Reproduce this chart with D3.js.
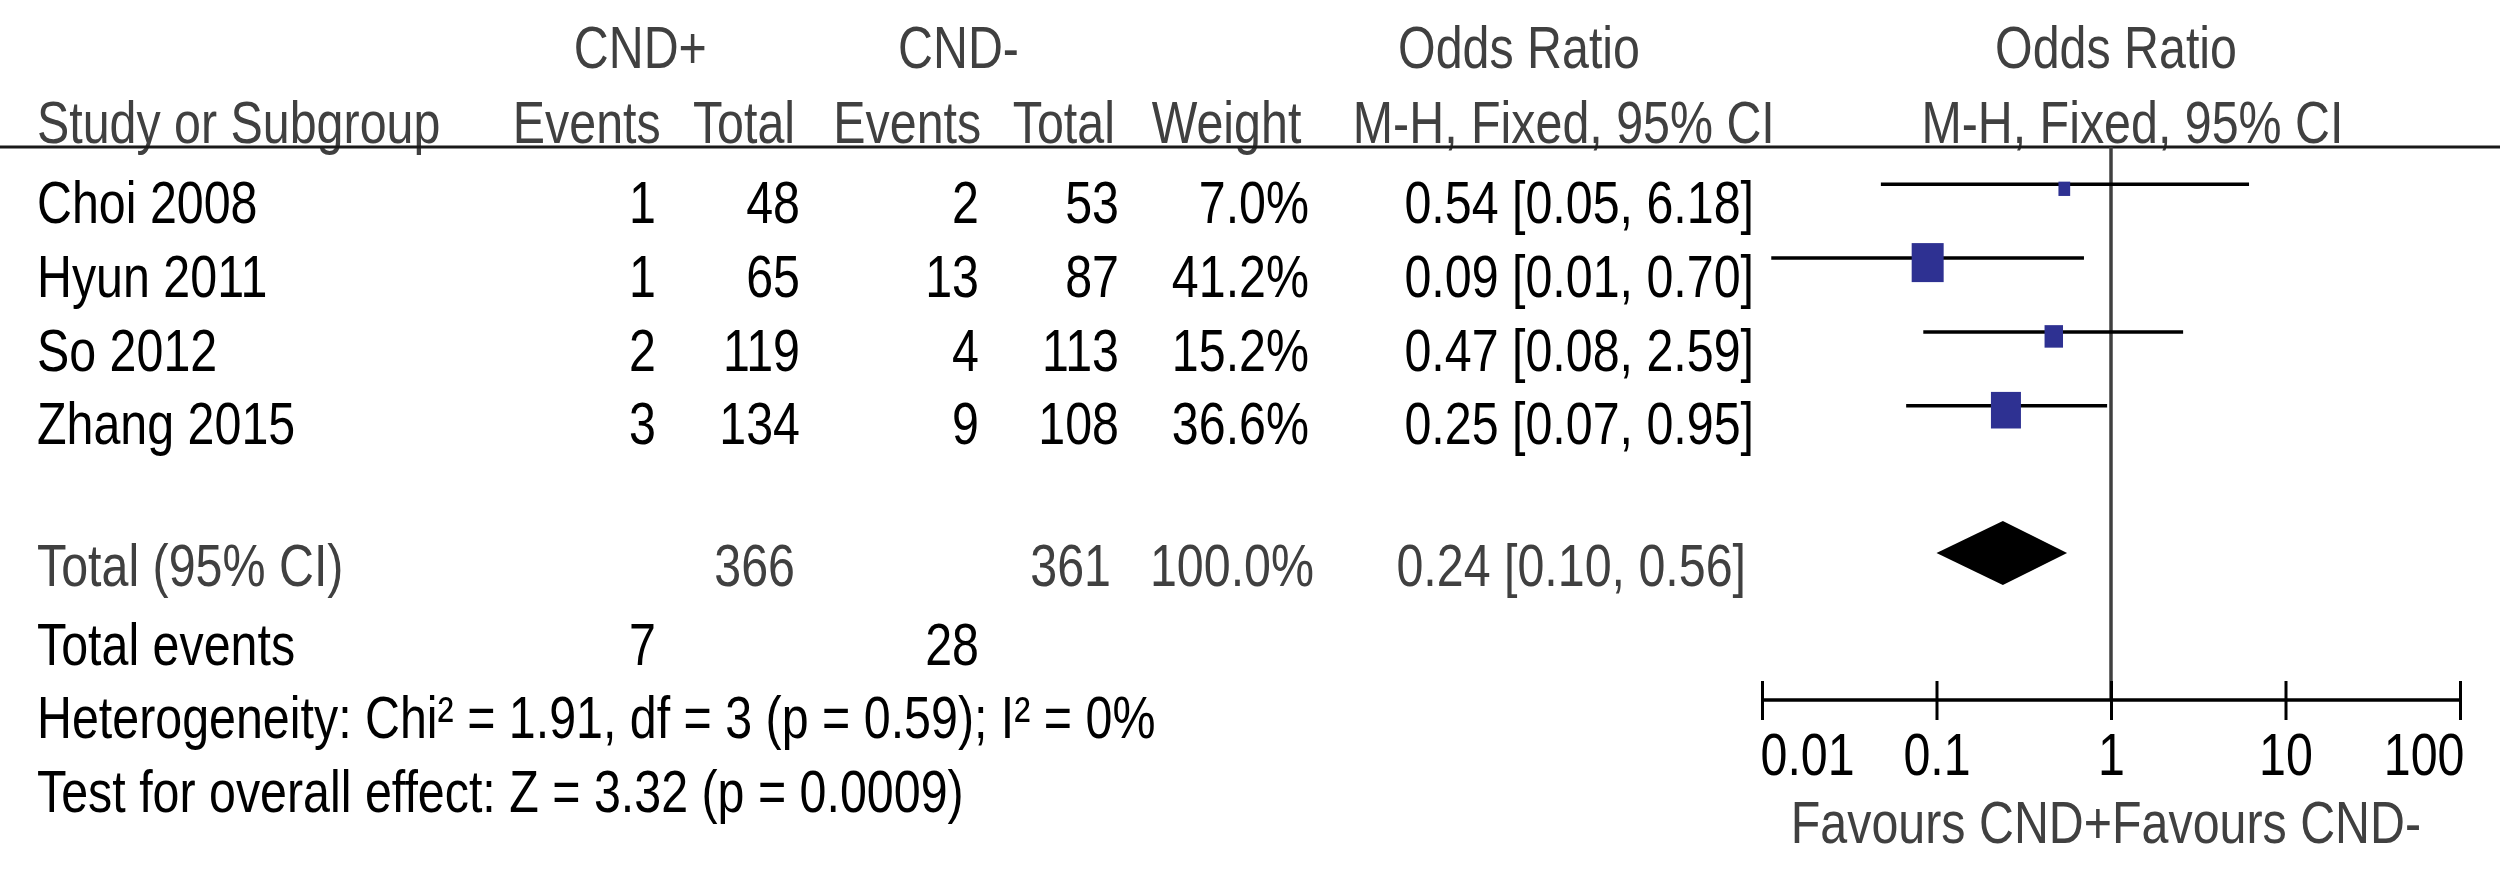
<!DOCTYPE html>
<html>
<head>
<meta charset="utf-8">
<script src="https://cdn.jsdelivr.net/npm/d3@7"></script>
<style>
  html, body { margin: 0; padding: 0; background: #fff; }
  svg { display: block; }
  text { font-family: "Liberation Sans", Arial, sans-serif; font-size: 59px; }
</style>
</head>
<body>
<svg id="chart" width="2500" height="885"></svg>
<script>
// ---------- data ----------
const studies    = ["Choi 2008", "Hyun 2011", "So 2012", "Zhang 2015"];
const eventsPos  = [1, 1, 2, 3];
const totalPos   = [48, 65, 119, 134];
const eventsNeg  = [2, 13, 4, 9];
const totalNeg   = [53, 87, 113, 108];
const weights    = [7.0, 41.2, 15.2, 36.6];
const oddsRatio  = [0.54, 0.089, 0.47, 0.25];
const ciLower    = [0.048, 0.0113, 0.084, 0.067];
const ciUpper    = [6.18, 0.70, 2.59, 0.95];
const ciLabels   = ["0.54 [0.05, 6.18]", "0.09 [0.01, 0.70]", "0.47 [0.08, 2.59]", "0.25 [0.07, 0.95]"];
const weightLabels = ["7.0%", "41.2%", "15.2%", "36.6%"];

const pooledOR = 0.24, pooledLower = 0.10, pooledUpper = 0.56;
const pooledLabel = "0.24 [0.10, 0.56]";
const totalPosN = 366, totalNegN = 361, totalWeightLabel = "100.0%";
const totalEventsPos = 7, totalEventsNeg = 28;
const heterogeneityText = "Heterogeneity: Chi\u00B2 = 1.91, df = 3 (p = 0.59); I\u00B2 = 0%";
const overallText = "Test for overall effect: Z = 3.32 (p = 0.0009)";

const tickValues = [0.01, 0.1, 1, 10, 100];
const tickLabels = ["0.01", "0.1", "1", "10", "100"];
const favoursLeft = "Favours CND+", favoursRight = "Favours CND-";

// ---------- styling / layout ----------
const SX = 0.82;             // horizontal condensing of the original image
const GRAY = "#404040";
const BLUE = "#2e3192";

const svg = d3.select("#chart");
svg.append("rect").attr("width", 2500).attr("height", 885).attr("fill", "#fff");

function txt(x, y, s, anchor, fill) {
  return svg.append("text")
    .attr("transform", `translate(${x},${y}) scale(${SX},1)`)
    .attr("text-anchor", anchor || "start")
    .attr("fill", fill || "#000")
    .text(s);
}

// scales
const x = d3.scaleLog().domain([0.01, 100]).range([1762, 2460]);
const rowY = d3.scaleLinear().domain([0, 3]).range([184.3, 405.7]);   // CI line y
const textOffset = 38.6;
const sqH = d3.scaleLinear().domain([Math.sqrt(7.0), Math.sqrt(41.2)]).range([14.3, 39]);

// ---------- headers ----------
txt(640.3, 68, "CND+", "middle", GRAY);
txt(958.5, 68, "CND-", "middle", GRAY);
txt(1519, 68, "Odds Ratio", "middle", GRAY);
txt(2116, 68, "Odds Ratio", "middle", GRAY);

const hy = 143;
txt(37, hy, "Study or Subgroup", "start", GRAY);
txt(586.8, hy, "Events", "middle", GRAY);
txt(744, hy, "Total", "middle", GRAY);
txt(907.3, hy, "Events", "middle", GRAY);
txt(1063.8, hy, "Total", "middle", GRAY);
txt(1226.5, hy, "Weight", "middle", GRAY);
txt(1563.8, hy, "M-H, Fixed, 95% CI", "middle", GRAY);
txt(2132.4, hy, "M-H, Fixed, 95% CI", "middle", GRAY);

svg.append("line").attr("x1", 0).attr("x2", 2500).attr("y1", 147).attr("y2", 147)
  .attr("stroke", "#1a1a1a").attr("stroke-width", 3);

// ---------- study rows ----------
studies.forEach((s, i) => {
  const ty = rowY(i) + textOffset;
  txt(37, ty, s, "start");
  txt(656, ty, eventsPos[i], "end");
  txt(800, ty, totalPos[i], "end");
  txt(979, ty, eventsNeg[i], "end");
  txt(1119, ty, totalNeg[i], "end");
  txt(1309, ty, weightLabels[i], "end");
  txt(1754, ty, ciLabels[i], "end");
});

// vertical line of no effect
svg.append("line").attr("x1", x(1)).attr("x2", x(1)).attr("y1", 147).attr("y2", 700)
  .attr("stroke", GRAY).attr("stroke-width", 3.5);

// CI lines
svg.append("g").selectAll("line").data(studies).join("line")
  .attr("x1", (d, i) => x(ciLower[i]))
  .attr("x2", (d, i) => x(ciUpper[i]))
  .attr("y1", (d, i) => rowY(i))
  .attr("y2", (d, i) => rowY(i))
  .attr("stroke", "#000").attr("stroke-width", 3.5);

// squares
svg.append("g").selectAll("rect").data(studies).join("rect")
  .attr("width", (d, i) => sqH(Math.sqrt(weights[i])) * SX)
  .attr("height", (d, i) => sqH(Math.sqrt(weights[i])))
  .attr("x", (d, i) => x(oddsRatio[i]) - sqH(Math.sqrt(weights[i])) * SX / 2)
  .attr("y", (d, i) => rowY(i) + 4.5 - sqH(Math.sqrt(weights[i])) / 2)
  .attr("fill", BLUE);

// ---------- total row ----------
const totY = 586;
txt(37, totY, "Total (95% CI)", "start", GRAY);
txt(795, totY, totalPosN, "end", GRAY);
txt(1111, totY, totalNegN, "end", GRAY);
txt(1314, totY, totalWeightLabel, "end", GRAY);
txt(1746, totY, pooledLabel, "end", GRAY);

const dY = 553, dH = 32;
svg.append("path")
  .attr("d", `M${x(pooledLower)},${dY} L${x(pooledOR)},${dY - dH} L${x(pooledUpper)},${dY} L${x(pooledOR)},${dY + dH} Z`)
  .attr("fill", "#000");

txt(37, 665, "Total events", "start");
txt(656, 665, totalEventsPos, "end");
txt(979, 665, totalEventsNeg, "end");
txt(37, 738, heterogeneityText, "start");
txt(37, 812, overallText, "start");

// ---------- axis ----------
const axisY = 700, tickTop = 681, tickLen = 39;
const axis = d3.axisBottom(x).tickValues(tickValues)
  .tickFormat((d, i) => tickLabels[i]).tickSizeInner(tickLen).tickSizeOuter(0);
const ag = svg.append("g").attr("transform", `translate(0,${tickTop})`).call(axis);
ag.select(".domain").remove();
ag.selectAll(".tick line").attr("stroke", "#000").attr("stroke-width", 3);
ag.selectAll(".tick text")
  .attr("y", null).attr("dy", null)
  .attr("transform", `translate(0,${775 - tickTop}) scale(${SX},1)`)
  .attr("fill", "#000")
  .attr("font-family", "Liberation Sans, Arial, sans-serif")
  .attr("font-size", 59)
  .attr("text-anchor", (d, i) => i === 0 ? "start" : (i === tickValues.length - 1 ? "end" : "middle"))
  .attr("x", (d, i) => i === 0 ? -2 / SX : (i === tickValues.length - 1 ? 4 / SX : 0));
svg.append("line").attr("x1", x(0.01)).attr("x2", x(100)).attr("y1", axisY).attr("y2", axisY)
  .attr("stroke", "#000").attr("stroke-width", 3.5);

txt(x(1) + 1, 843, favoursLeft, "end", GRAY);
txt(x(1) + 1, 843, favoursRight, "start", GRAY);
</script>
</body>
</html>
